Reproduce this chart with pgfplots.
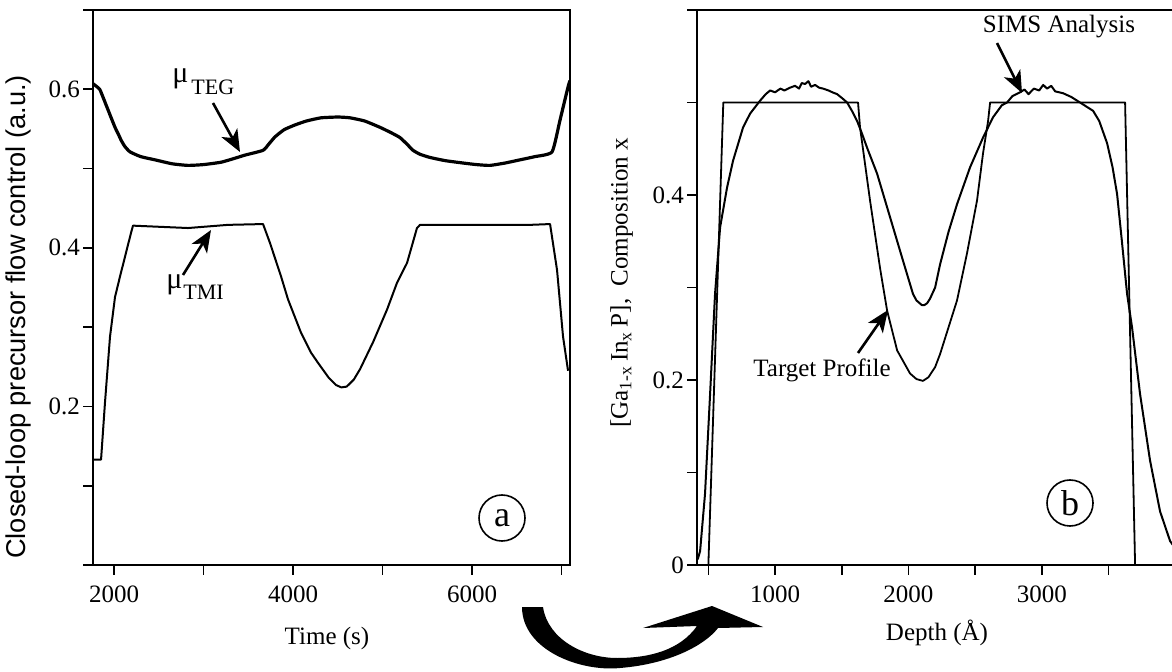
\documentclass[border=0pt]{standalone}
\usepackage{fontspec}
\setmainfont{Liberation Serif}
\newfontfamily\helv{Liberation Sans}
\usepackage{pgfplots}
\pgfplotsset{compat=1.18}
\usetikzlibrary{arrows.meta}

\newcommand\fs[1]{\fontsize{#1bp}{#1bp}\selectfont}

\pgfplotsset{
  panel/.style={
    scale only axis, anchor=south west,
    height=277.5bp, ymin=0,
    axis line style={line width=1.4bp},
    every tick/.style={line width=0.8bp, black},
    tick align=outside, major tick length=5bp,
    xtick pos=left, ytick pos=left,
    tick label style={font=\fs{12.5}},
    xticklabel style={yshift=-2bp},
    yticklabel style={xshift=2bp},
    label style={font=\fs{12.5}},
    ylabel style={anchor=center},
  },
  thin curve/.style={black, line width=1bp, line join=round},
}

% data
\pgfplotstableread{
t     mu
1765  0.607
1788  0.605
1840  0.600
1877  0.590
1933  0.574
2011  0.552
2050  0.543
2078  0.536
2120  0.528
2179  0.521
2300  0.515
2458  0.511
2650  0.506
2827  0.504
3000  0.505
3196  0.508
3350  0.513
3464  0.517
3665  0.523
3730  0.531
3799  0.540
3900  0.549
4022  0.555
4150  0.560
4313  0.564
4503  0.565
4637  0.564
4800  0.560
4972  0.552
5100  0.545
5196  0.539
5280  0.530
5341  0.523
5420  0.518
5531  0.514
5700  0.510
5899  0.507
6050  0.505
6201  0.504
6370  0.507
6536  0.511
6700  0.515
6894  0.521
6983  0.561
7073  0.603
7095  0.611
}\teg

\pgfplotstableread{
t     mu
1765  0.133
1855  0.133
1899  0.205
1955  0.288
2011  0.338
2067  0.364
2123  0.389
2190  0.419
2212  0.428
2827  0.425
3274  0.429
3665  0.430
3743  0.406
3866  0.364
3944  0.335
4089  0.293
4200  0.268
4279  0.255
4400  0.236
4480  0.227
4540  0.224
4600  0.225
4680  0.234
4749  0.247
4894  0.281
5050  0.322
5162  0.356
5274  0.381
5385  0.425
5419  0.429
6648  0.429
6872  0.430
6950  0.372
7017  0.288
7073  0.245
}\tmi

\pgfplotstableread{
d     x
418   0
500   0
612   0.5
1622  0.5
1637  0.473
1712  0.394
1787  0.321
1840  0.275
1915  0.232
2012  0.207
2060  0.201
2109  0.199
2150  0.203
2200  0.214
2237  0.228
2364  0.286
2439  0.337
2514  0.394
2559  0.445
2597  0.480
2612  0.5
3624  0.5
3699  0
4100  0
}\target

\pgfplotstableread{
d     x
420   0.006
438   0.015
475   0.077
513   0.185
550   0.293
588   0.365
640   0.408
685   0.437
760   0.473
813   0.488
888   0.502
930   0.509
963   0.513
1000  0.511
1040  0.515
1070  0.513
1112  0.516
1150  0.518
1180  0.515
1200  0.521
1225  0.520
1250  0.523
1270  0.517
1300  0.519
1330  0.516
1360  0.515
1400  0.513
1430  0.511
1465  0.509
1500  0.505
1540  0.500
1580  0.490
1615  0.480
1650  0.467
1690  0.451
1765  0.423
1862  0.376
1959  0.329
2034  0.293
2060  0.286
2100  0.281
2120  0.281
2140  0.283
2162  0.288
2200  0.300
2237  0.325
2300  0.360
2364  0.390
2462  0.430
2559  0.462
2634  0.484
2700  0.497
2739  0.500
2780  0.507
2836  0.511
2870  0.514
2900  0.509
2940  0.515
2980  0.513
3010  0.519
3039  0.515
3070  0.518
3100  0.512
3159  0.510
3220  0.506
3286  0.500
3340  0.495
3384  0.491
3430  0.480
3489  0.456
3530  0.430
3564  0.401
3600  0.350
3639  0.293
3676  0.257
3736  0.185
3811  0.113
3886  0.058
3961  0.026
3990  0.020
4040  0.012
}\sims

\begin{document}
\begin{tikzpicture}
  % (a) control signals, lower left corner at reference pixel (93,565)
  \begin{axis}[panel, at={(46.5bp,53bp)}, width=238.5bp,
      xmin=1765, xmax=7095, ymax=0.7,
      xtick={2000,3000,4000,5000,6000,7000}, xticklabels={2000,,4000,,6000,},
      ytick={0,0.1,0.2,0.3,0.4,0.5,0.6,0.7}, yticklabels={,,0.2,,0.4,,0.6,},
      ylabel={Closed-loop precursor flow control (a.u.)},
      ylabel style={font=\helv\fs{13.6}, at={(axis description cs:-0.157,0.447)}},
    ]
    \addplot[black, line width=1.6bp, line join=round, smooth, tension=0.3] table[x=t, y=mu] {\teg};
    \addplot[thin curve] table[x=t, y=mu] {\tmi};
  \end{axis}

  % (b) composition profiles, lower left corner at reference pixel (697,565)
  \begin{axis}[panel, at={(348.5bp,53bp)}, width=241.5bp,
      xmin=415, xmax=4036, ymax=0.6,
      xtick={500,1000,1500,2000,2500,3000,3500}, xticklabels={,1000,,2000,,3000,},
      ytick={0,0.1,0.2,0.3,0.4,0.5,0.6}, yticklabels={0,,0.2,,0.4,,},
      ylabel={[Ga\textsubscript{1-x}\,In\textsubscript{x}\,P],\enspace Composition x},
      ylabel style={at={(axis description cs:-0.156,0.508)}},
    ]
    \addplot[thin curve, line width=0.9bp] table[x=d, y=x] {\target};
    \addplot[thin curve] table[x=d, y=x] {\sims};
  \end{axis}

  % labels and annotations, in reference pixels measured from the bottom
  \begin{scope}[x=0.5bp, y=0.5bp]
  \node[font=\fs{12.5}] at (327,33) {Time (s)};
  \node[font=\fs{12.5}] at (937,38) {Depth (Å)};

  \tikzset{ann/.style={-{Stealth[length=11bp, width=9bp, inset=3bp]}, line width=1.3bp}}
  \node[anchor=base west, inner sep=0, font=\fs{15}] at (172,588) {μ};
  \node[anchor=base west, inner sep=0, font=\fs{11}] at (191,576) {TEG};
  \draw[ann] (213,568) -- (240,519);
  \node[anchor=base west, inner sep=0, font=\fs{15}] at (166,382) {μ};
  \node[anchor=base west, inner sep=0, font=\fs{11}] at (183,371) {TMI};
  \draw[ann] (183,396) -- (211,441);

  \node[font=\fs{12.5}] at (1059,644) {SIMS Analysis};
  \draw[ann] (997,628) -- (1022,578);
  \node[font=\fs{12.5}] at (822,301) {Target Profile};
  \draw[ann] (858,318) -- (888,361);

  \draw[line width=0.8bp] (502,153) circle[radius=23];
  \node[font=\fs{18}] at (502,153) {a};
  \draw[line width=0.8bp] (1070,168) circle[radius=23];
  \node[font=\fs{18}] at (1070,168) {b};

  % curved arrow linking the panels
  \fill[black] (522,64) .. controls (522,21) and (580,-1) .. (620,3)
    .. controls (670,7) and (705,26) .. (718,43) -- (763,44) -- (712,65)
    -- (643,43) -- (697,45) .. controls (680,21) and (650,13) .. (617,13)
    .. controls (585,13) and (548,31) .. (543,64) -- cycle;

  % page = reference frame
  \pgfresetboundingbox
  \useasboundingbox (0,0) rectangle (1172,671);
  \end{scope}
\end{tikzpicture}
\end{document}
